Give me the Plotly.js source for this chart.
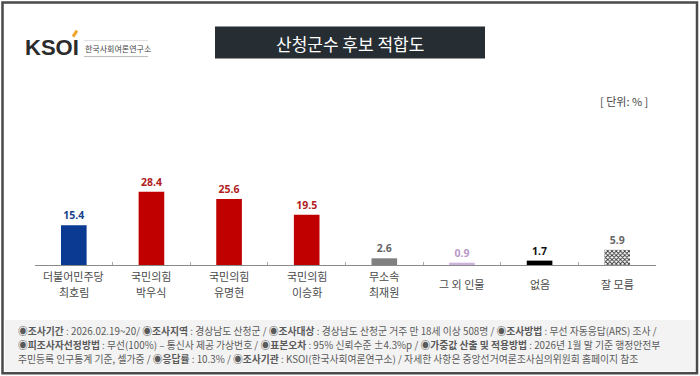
<!DOCTYPE html>
<html><head><meta charset="utf-8">
<script src="https://cdn.plot.ly/plotly-3.0.1.min.js"></script>
<style>html,body{margin:0;padding:0;background:#fff;}#chart{width:700px;height:376px;}</style>
</head><body><div id="chart"></div>
<script>
const categories = ["더불어민주당<br>최호림","국민의힘<br>박우식","국민의힘<br>유명현","국민의힘<br>이승화","무소속<br>최재원","그 외 인물","없음","잘 모름"];
const values = [15.4, 28.4, 25.6, 19.5, 2.6, 0.9, 1.7, 5.9];
const barColors = ["#0a3a92","#c00000","#c00000","#c00000","#808080","#cdb3dc","#000000","#ffffff"];
const labelColors = ["#1a3f8c","#b01c1c","#b01c1c","#b01c1c","#666666","#b89ac8","#111111","#666666"];
const hatchedIndex = 7;
const titleText = "산청군수 후보 적합도";
const unitText = "[ 단위: % ]";
const footLines = [
 "<b>◉조사기간</b> : 2026.02.19~20/ <b>◉조사지역</b> : 경상남도 산청군 / <b>◉조사대상</b> : 경상남도 산청군 거주 만 18세 이상 508명 / <b>◉조사방법</b> : 무선 자동응답(ARS) 조사 /",
 "<b>◉피조사자선정방법</b> : 무선(100%) – 통신사 제공 가상번호 / <b>◉표본오차</b> : 95% 신뢰수준 ±4.3%p / <b>◉가중값 산출 및 적용방법</b> : 2026년 1월 말 기준 행정안전부",
 "주민등록 인구통계 기준, 셀가중 / <b>◉응답률</b> : 10.3% / <b>◉조사기관</b> : KSOI(한국사회여론연구소) / 자세한 사항은 중앙선거여론조사심의위원회 홈페이지 참조"
];

const W=700,H=376, L=35, R=656, B=265, T=162.2;
const px = x => (x-L)/(R-L);
const py = y => (B-y)/(B-T);
const FONT = "Noto Sans CJK KR, Noto Sans, sans-serif";

const solidIdx = values.map((v,i)=>i).filter(i=>i!==hatchedIndex);
const trace = {
  type:"bar", x:solidIdx.map(i=>categories[i]), y:solidIdx.map(i=>values[i]),
  width:0.33,
  marker:{color:solidIdx.map(i=>barColors[i]), line:{width:0}},
  text:solidIdx.map(i=>values[i].toFixed(1)), textposition:"outside", cliponaxis:false,
  textfont:{family:"Noto Sans, DejaVu Sans, sans-serif", size:10.5, color:solidIdx.map(i=>labelColors[i]), weight:700},
  hoverinfo:"none"
};
const traceHatch = {
  type:"bar", x:[categories[hatchedIndex]], y:[values[hatchedIndex]],
  width:0.33,
  marker:{color:"#ffffff", line:{width:0},
    pattern:{shape:"x", fgcolor:"#333333", bgcolor:"#ffffff", size:3, solidity:0.5}},
  text:[values[hatchedIndex].toFixed(1)], textposition:"outside", cliponaxis:false,
  textfont:{family:"Noto Sans, DejaVu Sans, sans-serif", size:10.5, color:labelColors[hatchedIndex], weight:700},
  hoverinfo:"none"
};

const shapes = [
  {type:"rect", xref:"paper", yref:"paper", x0:px(5), x1:px(695), y0:py(320), y1:py(371), fillcolor:"#f3f3f3", line:{width:0}, layer:"below"},
  {type:"rect", xref:"paper", yref:"paper", x0:px(2.5), x1:px(697), y0:py(3), y1:py(373), line:{color:"#4a4a4a", width:2.5}},
  {type:"rect", xref:"paper", yref:"paper", x0:px(215), x1:px(485), y0:py(27), y1:py(59), fillcolor:"#262d33", line:{width:0}},
  {type:"line", xref:"paper", yref:"paper", x0:px(73), x1:px(77), y0:py(37), y1:py(31), line:{color:"#f0a52a", width:3}},
  {type:"line", xref:"paper", yref:"paper", x0:px(84), x1:px(148), y0:py(57), y1:py(57), line:{color:"#bbbbbb", width:1}},
  {type:"line", xref:"paper", yref:"paper", x0:px(84), x1:px(148), y0:py(41), y1:py(41), line:{color:"#dddddd", width:1}}
];

const ann = [
  {xref:"paper", yref:"paper", x:px(350), y:py(43.5), text:titleText, showarrow:false, font:{family:FONT, size:17, color:"#ffffff"}, xanchor:"center", yanchor:"middle"},
  {xref:"paper", yref:"paper", x:px(23), y:py(48), text:"<b>KSOI</b>", showarrow:false, font:{family:"Liberation Sans, Arial, sans-serif", size:22, color:"#2b2b2b"}, xanchor:"left", yanchor:"middle"},
  {xref:"paper", yref:"paper", x:px(83), y:py(49), text:"한국사회여론연구소", showarrow:false, font:{family:FONT, size:8, color:"#444444"}, xanchor:"left", yanchor:"middle"},
  {xref:"paper", yref:"paper", x:px(650), y:py(101), text:unitText, showarrow:false, font:{family:FONT, size:11, color:"#444444"}, xanchor:"right", yanchor:"middle"}
];
footLines.forEach((t,i)=>{
  ann.push({xref:"paper", yref:"paper", x:px(16), y:py(331+i*14), text:t, showarrow:false, font:{family:FONT, size:9.8, color:"#5a5a5a"}, xanchor:"left", yanchor:"middle"});
});
// category labels, one annotation per line, placed through the x axis
categories.forEach(c=>{
  const lines = c.split("<br>");
  const n = lines.length;
  lines.forEach((t,j)=>{
    ann.push({xref:"x", yref:"paper", x:c, y:py(284 + (j-(n-1)/2)*15.5), text:t, showarrow:false,
      font:{family:FONT, size:11, color:"#4a4a4a"}, xanchor:"center", yanchor:"middle", borderpad:0});
  });
});

const layout = {
  width:W, height:H,
  margin:{l:L, r:W-R, t:T, b:H-B, pad:0},
  paper_bgcolor:"#ffffff", plot_bgcolor:"#ffffff",
  showlegend:false, barmode:"overlay",
  xaxis:{type:"category", categoryorder:"array", categoryarray:categories, showline:true, linecolor:"#8a8a8a", linewidth:1, ticks:"inside", ticklen:3, tickcolor:"#aaaaaa", tickson:"boundaries",
    showticklabels:false, automargin:false, showgrid:false, zeroline:false, range:[-0.5,7.5], fixedrange:true},
  yaxis:{range:[0,40], visible:false, showgrid:false, zeroline:false, fixedrange:true},
  shapes:shapes, annotations:ann
};
Plotly.newPlot("chart",[trace, traceHatch],layout,{displayModeBar:false, staticPlot:true});
</script></body></html>
